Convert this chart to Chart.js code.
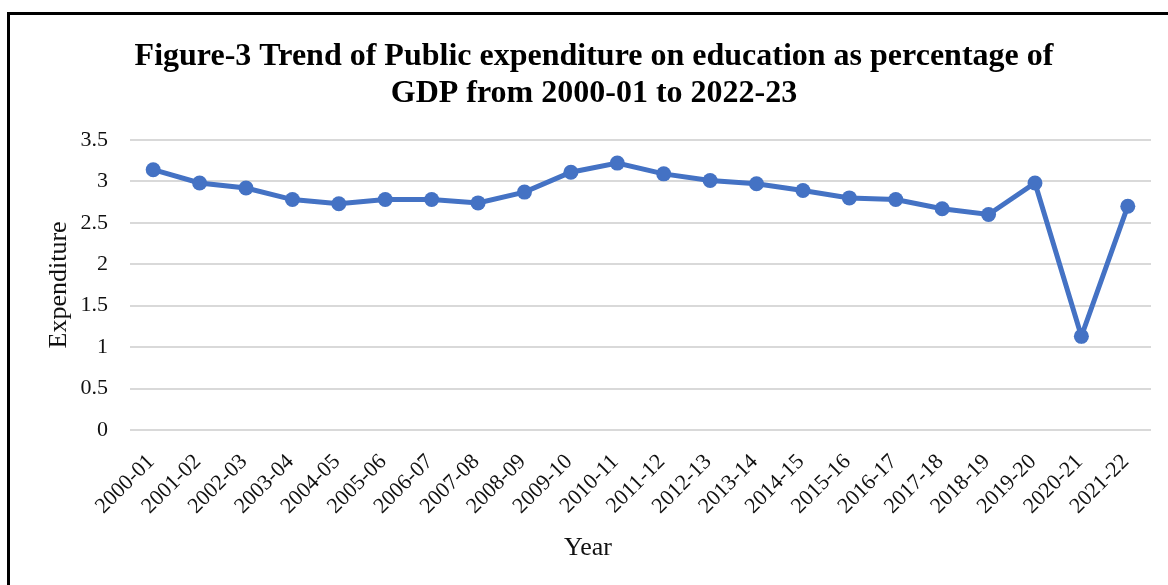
<!DOCTYPE html>
<html>
<head>
<meta charset="utf-8">
<script src="https://cdn.jsdelivr.net/npm/chart.js@4.4.1/dist/chart.umd.min.js"></script>
<style>
  html, body { margin: 0; padding: 0; background: #fff; }
  #wrap { position: relative; width: 1168px; height: 585px; overflow: hidden; }
  #frame { position: absolute; left: 7px; top: 12px; right: -10px; bottom: -10px;
           border-left: 3px solid #000; border-top: 3px solid #000; pointer-events: none; }
  canvas { position: absolute; left: 0; top: 0; }
</style>
</head>
<body>
<div id="wrap">
  <canvas id="chart" width="1168" height="585"></canvas>
  <div id="frame"></div>
</div>
<script>
// data
const years = ['2000-01', '2001-02', '2002-03', '2003-04', '2004-05', '2005-06', '2006-07', '2007-08',
               '2008-09', '2009-10', '2010-11', '2011-12', '2012-13', '2013-14', '2014-15', '2015-16',
               '2016-17', '2017-18', '2018-19', '2019-20', '2020-21', '2021-22'];
const expenditure = [3.14, 2.98, 2.92, 2.78, 2.73, 2.78, 2.78, 2.74, 2.87, 3.11, 3.22, 3.09,
                     3.01, 2.97, 2.89, 2.80, 2.78, 2.67, 2.60, 2.98, 1.13, 2.70];
const titleLines = ['Figure-3 Trend of Public expenditure on education as percentage of',
                    'GDP from 2000-01 to 2022-23'];
const yTitle = 'Expenditure';
const xTitle = 'Year';

const serif = "'Liberation Serif', 'Times New Roman', serif";
const blue = '#4472C4';

// x axis title is drawn by hand, Excel centres it on the whole plot not the chart area
const xTitlePlugin = {
    id: 'xTitle',
    afterDraw(chart) {
        const ctx = chart.ctx;
        ctx.save();
        ctx.font = '26px ' + serif;
        ctx.fillStyle = '#111';
        ctx.textAlign = 'center';
        ctx.textBaseline = 'middle';
        ctx.fillText(xTitle, 588, 548);
        ctx.restore();
    }
};

new Chart(document.getElementById('chart'), {
    type: 'line',
    data: {
        labels: years,
        datasets: [{
            label: yTitle,
            data: expenditure,
            borderColor: blue,
            backgroundColor: blue,
            borderWidth: 5,
            pointRadius: 7.5,
            pointBorderWidth: 0,
            pointBackgroundColor: blue,
            tension: 0
        }]
    },
    options: {
        responsive: false,
        devicePixelRatio: 1,
        animation: false,
        layout: { padding: { left: 37, right: 17, top: 0, bottom: 0 } },
        plugins: {
            legend: { display: false },
            tooltip: { enabled: false },
            title: {
                display: true,
                text: titleLines,
                color: '#000',
                font: { family: serif, size: 32, weight: 'bold', lineHeight: 1.17 },
                padding: { top: 38, bottom: 27 }
            }
        },
        scales: {
            x: {
                offset: true,
                grid: { display: false, drawTicks: false },
                border: { display: false },
                ticks: {
                    autoSkip: false,
                    maxRotation: 45,
                    minRotation: 45,
                    labelOffset: -2,
                    padding: 19,
                    color: '#111',
                    font: { family: serif, size: 22 }
                },
                afterFit(scale) { scale.height = 155; }
            },
            y: {
                min: 0,
                max: 3.5,
                ticks: {
                    stepSize: 0.5,
                    padding: 22,
                    color: '#111',
                    font: { family: serif, size: 22 },
                    callback: (v) => String(v)
                },
                grid: { color: '#d9d9d9', lineWidth: 2, drawTicks: false },
                border: { display: false },
                title: {
                    display: true,
                    text: yTitle,
                    color: '#111',
                    font: { family: serif, size: 26 },
                    padding: { top: 7, bottom: 0 }
                },
                afterFit(scale) { scale.width = 93; }
            }
        }
    },
    plugins: [xTitlePlugin]
});
</script>
</body>
</html>
